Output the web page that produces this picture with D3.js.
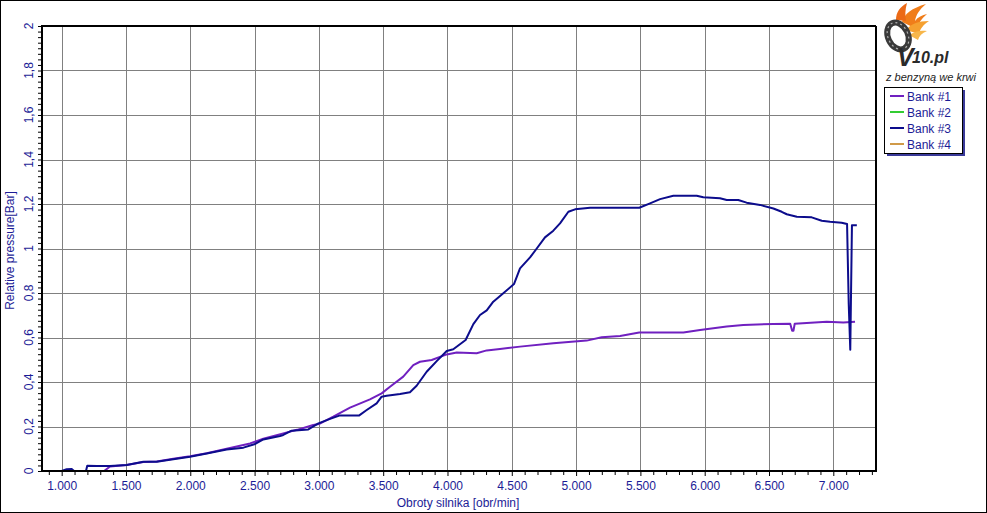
<!DOCTYPE html>
<html><head><meta charset="utf-8">
<script src="https://cdn.jsdelivr.net/npm/d3@7"></script>
<style>
html,body{margin:0;padding:0;background:#fff;}
svg{display:block;font-family:"Liberation Sans",Arial,sans-serif;}
</style></head>
<body>
<svg id="c" width="987" height="513"></svg>
<script>
// ---- data ----
const seriesNames = ["Bank #1","Bank #2","Bank #3","Bank #4"];
const seriesColors = ["#7020c0","#33cc33","#0c0c8c","#d09a48"];
const xTicks = [1000,1500,2000,2500,3000,3500,4000,4500,5000,5500,6000,6500,7000];
const xTickLabels = ["1.000","1.500","2.000","2.500","3.000","3.500","4.000","4.500","5.000","5.500","6.000","6.500","7.000"];
const yTicks = [0,0.2,0.4,0.6,0.8,1,1.2,1.4,1.6,1.8,2];
const yTickLabels = ["0","0,2","0,4","0,6","0,8","1","1,2","1,4","1,6","1,8","2"];
const bank1 = [[1000,0],[1330,0],[1376,0.02],[1505,0.027],[1635,0.04],[1739,0.043],[1868,0.055],[1998,0.066],[2128,0.08],[2283,0.1],[2465,0.124],[2568,0.145],[2723,0.169],[2830,0.185],[2956,0.207],[3000,0.211],[3112,0.244],[3242,0.285],[3397,0.322],[3488,0.349],[3553,0.379],[3656,0.424],[3734,0.476],[3786,0.491],[3877,0.499],[3994,0.524],[4072,0.533],[4227,0.529],[4305,0.542],[4408,0.548],[4564,0.559],[4823,0.574],[5082,0.586],[5199,0.601],[5342,0.607],[5491,0.622],[5834,0.622],[5964,0.634],[6171,0.649],[6300,0.656],[6534,0.661],[6665,0.662],[6680,0.63],[6690,0.63],[6700,0.662],[6949,0.671],[7078,0.667],[7169,0.671]];
const bank2 = [];
const bank3 = [[1000,0],[1039,0.008],[1078,0.009],[1096,0],[1189,0],[1199,0.024],[1272,0.022],[1376,0.022],[1505,0.027],[1635,0.042],[1739,0.042],[1868,0.053],[1998,0.064],[2128,0.079],[2283,0.097],[2413,0.105],[2498,0.12],[2568,0.142],[2698,0.157],[2723,0.162],[2788,0.181],[2918,0.187],[2996,0.214],[3087,0.234],[3164,0.25],[3314,0.25],[3372,0.274],[3449,0.304],[3488,0.334],[3527,0.338],[3631,0.346],[3708,0.354],[3760,0.383],[3838,0.446],[3916,0.494],[3994,0.539],[4045,0.547],[4141,0.589],[4201,0.66],[4253,0.701],[4305,0.722],[4356,0.761],[4434,0.799],[4517,0.84],[4564,0.911],[4642,0.96],[4694,1.0],[4758,1.05],[4823,1.08],[4875,1.113],[4940,1.165],[4992,1.176],[5109,1.183],[5491,1.183],[5575,1.203],[5653,1.222],[5756,1.237],[5938,1.237],[5989,1.23],[6119,1.226],[6171,1.218],[6261,1.218],[6326,1.206],[6430,1.196],[6534,1.18],[6599,1.165],[6638,1.154],[6716,1.143],[6832,1.14],[6910,1.125],[6975,1.12],[7065,1.116],[7107,1.11],[7112,0.97],[7120,0.75],[7132,0.545],[7145,1.105],[7183,1.105]];
const bank4 = [];
const seriesData = [bank1, bank2, bank3, bank4];

// ---- layout ----
const W = 987, H = 513;
const L = 42, T = 26, R = 876, B = 471;
const svg = d3.select("#c");
const txtCol = "#1c1c96";

svg.append("rect").attr("x",0.5).attr("y",0.5).attr("width",W-1).attr("height",H-1)
  .attr("fill","#fff").attr("stroke","#000");

const x = d3.scaleLinear().domain([847, 7332]).range([L, R]);
const y = d3.scaleLinear().domain([0, 2]).range([B, T]);

// grid
const g = svg.append("g");
g.selectAll(".vg").data(xTicks).join("line")
  .attr("x1",d=>Math.round(x(d))+0.5).attr("x2",d=>Math.round(x(d))+0.5)
  .attr("y1",T).attr("y2",B).attr("stroke","#808080").attr("stroke-width",1);
g.selectAll(".hg").data(yTicks.slice(1,-1)).join("line")
  .attr("y1",d=>Math.round(y(d))+0.5).attr("y2",d=>Math.round(y(d))+0.5)
  .attr("x1",L).attr("x2",R).attr("stroke","#808080").attr("stroke-width",1);

// x axis
const xMinor = d3.range(900, 7400, 100);
const xAxis = d3.axisBottom(x).tickValues(xMinor).tickSize(4)
  .tickFormat(d => { const i = xTicks.indexOf(d); return i>=0 ? xTickLabels[i] : ""; });
const xa = svg.append("g").attr("transform",`translate(0,${B})`).call(xAxis);
xa.select(".domain").remove();
xa.selectAll(".tick line").attr("stroke","#000").attr("y2", d => xTicks.includes(d) ? 5 : 4);
xa.selectAll(".tick text").attr("fill",txtCol).attr("font-size",12)
  .attr("font-family","Liberation Sans, Arial, sans-serif").attr("y",10);

// y axis
const yMinor = d3.range(0, 2.0001, 0.025);
const yAxis = d3.axisLeft(y).tickValues(yMinor).tickSize(4).tickFormat("");
const ya = svg.append("g").attr("transform",`translate(${L},0)`).call(yAxis);
ya.select(".domain").remove();
ya.selectAll(".tick line").attr("stroke","#000");
svg.append("g").selectAll("text").data(yTicks).join("text")
  .attr("transform",(d)=>`translate(33,${y(d)}) rotate(-90)`)
  .attr("text-anchor","middle").attr("font-size",12).attr("fill",txtCol)
  .text((d,i)=>yTickLabels[i]);

// axis titles
svg.append("text").attr("transform",`translate(14,${(T+B)/2+2}) rotate(-90)`)
  .attr("text-anchor","middle").attr("font-size",12).attr("fill",txtCol)
  .text("Relative pressure[Bar]");
svg.append("text").attr("x",458).attr("y",507)
  .attr("text-anchor","middle").attr("font-size",12).attr("fill",txtCol)
  .text("Obroty silnika [obr/min]");

// lines
const line = d3.line().x(d=>x(d[0])).y(d=>y(d[1]));
svg.append("clipPath").attr("id","clp").append("rect")
  .attr("x",L).attr("y",T-2).attr("width",R-L).attr("height",B-T+2);
const lg = svg.append("g").attr("clip-path","url(#clp)");
[0,1,3,2].forEach(i=>{
  if (!seriesData[i].length) return;
  lg.append("path").datum(seriesData[i]).attr("d",line)
    .attr("fill","none").attr("stroke",seriesColors[i]).attr("stroke-width",2)
    .attr("stroke-linejoin","round");
});

// frame
svg.append("line").attr("x1",L).attr("x2",L).attr("y1",T-1).attr("y2",B+1).attr("stroke","#000").attr("stroke-width",2);
svg.append("line").attr("x1",L-1).attr("x2",R+1).attr("y1",B).attr("y2",B).attr("stroke","#000").attr("stroke-width",2);
svg.append("line").attr("x1",L).attr("x2",R).attr("y1",T).attr("y2",T).attr("stroke","#000").attr("stroke-width",2);
svg.append("line").attr("x1",R).attr("x2",R).attr("y1",T).attr("y2",B).attr("stroke","#000").attr("stroke-width",2);

// logo
const logo = svg.append("g");
const flames = [
  {d:"M902,22 C904,14 912,8 926,4 C919,10 916,15 915,21 C918,17 922,15 927,14 C921,19 918,24 917,29 Z", c:"#f07d1a"},
  {d:"M906,30 C911,24 918,21 929,21 C923,25 920,29 919,34 Z", c:"#f5a030"},
  {d:"M896,20 C896,12 900,7 907,3 C905,10 905,15 906,21 Z", c:"#ec6a16"},
  {d:"M909,35 C915,31 921,30 927,31 C922,33 919,36 918,40 Z", c:"#f7b64a"}
];
logo.selectAll("path.f").data(flames).join("path").attr("d",d=>d.d).attr("fill",d=>d.c);
logo.append("ellipse").attr("cx",898).attr("cy",36).attr("rx",10).attr("ry",14)
  .attr("transform","rotate(-25,898,36)")
  .attr("fill","none").attr("stroke","#3a3a3a").attr("stroke-width",6);
logo.append("ellipse").attr("cx",898).attr("cy",36).attr("rx",10).attr("ry",14)
  .attr("transform","rotate(-25,898,36)")
  .attr("fill","none").attr("stroke","#b0b0b0").attr("stroke-width",1.2).attr("stroke-dasharray","2 3");
logo.append("text").attr("x",897).attr("y",66).attr("font-size",25).attr("font-weight","bold")
  .attr("font-style","italic").attr("fill","#2a2a2a").text("V");
logo.append("text").attr("x",912).attr("y",63).attr("font-size",16).attr("font-weight","bold")
  .attr("font-style","italic").attr("fill","#2a2a2a").text("10.pl");
logo.append("text").attr("x",931).attr("y",81).attr("text-anchor","middle").attr("font-size",11)
  .attr("font-style","italic").attr("fill","#222").text("z benzyną we krwi");

// legend
const lx = 884, ly = 87, lw = 78, lh = 66;
svg.append("rect").attr("x",lx+3).attr("y",ly+3).attr("width",lw).attr("height",lh).attr("fill","#3a3a9a");
svg.append("rect").attr("x",lx+0.5).attr("y",ly+0.5).attr("width",lw).attr("height",lh)
  .attr("fill","#fff").attr("stroke","#000");
const le = svg.append("g").selectAll("g").data(seriesNames).join("g")
  .attr("transform",(d,i)=>`translate(${lx},${ly+9+i*16})`);
le.append("line").attr("x1",6).attr("x2",20).attr("y1",0).attr("y2",0)
  .attr("stroke",(d,i)=>seriesColors[i]).attr("stroke-width",2);
le.append("text").attr("x",23).attr("y",4.5).attr("font-size",12).attr("fill",txtCol).text(d=>d);
</script>
</body></html>
